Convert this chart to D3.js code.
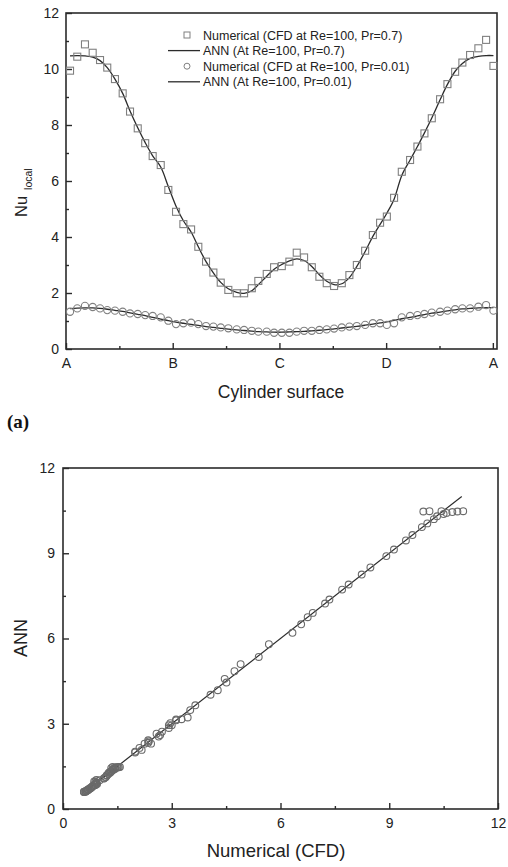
<!DOCTYPE html>
<html>
<head>
<meta charset="utf-8">
<script src="https://cdn.jsdelivr.net/npm/d3@7"></script>
<style>
body { margin: 0; background: #fff; }
svg { display: block; font-family: "Liberation Sans", Arial, sans-serif; }
</style>
</head>
<body>
<div id="chart"></div>
<script>
// Angular position on the cylinder surface (deg, A=0, B=90, C=180, D=270, A=360)
var angle = [3.4, 9.5, 16.0, 22.5, 28.7, 34.8, 41.3, 47.8, 54.0, 60.5, 66.8, 73.1, 79.9, 86.3, 92.8, 99.0,
    105.5, 111.6, 118.1, 124.3, 130.5, 136.9, 144.0, 150.2, 156.7, 162.2, 169.3, 175.5, 182.0, 188.4, 194.6,
    200.8, 207.3, 213.7, 219.9, 226.1, 232.6, 239.0, 245.3, 252.3, 258.8, 264.9, 270.6, 276.7, 283.2, 290.2,
    296.4, 302.3, 308.5, 315.5, 321.7, 328.2, 334.3, 340.8, 347.8, 354.3, 360.5];

// Pr = 0.7
var cfd_07 = [9.94, 10.44, 10.88, 10.58, 10.32, 10.05, 9.64, 9.13, 8.48, 7.88, 7.35, 6.89, 6.57, 5.68, 4.90,
    4.46, 4.27, 3.65, 3.12, 2.73, 2.37, 2.11, 1.99, 1.99, 2.17, 2.43, 2.68, 2.92, 2.96, 3.12, 3.44, 3.27, 2.92,
    2.58, 2.35, 2.25, 2.35, 2.64, 3.00, 3.51, 4.07, 4.51, 4.73, 5.40, 6.33, 6.75, 7.23, 7.70, 8.24, 8.92, 9.46,
    9.90, 10.23, 10.50, 10.74, 11.04, 10.11];
var ann_07 = [10.47, 10.48, 10.47, 10.42, 10.30, 10.05, 9.64, 9.13, 8.50, 7.90, 7.37, 6.90, 6.50, 5.80, 5.10,
    4.58, 4.18, 3.65, 3.12, 2.72, 2.38, 2.15, 2.02, 1.99, 2.08, 2.30, 2.60, 2.85, 3.02, 3.15, 3.22, 3.16, 2.95,
    2.65, 2.42, 2.30, 2.33, 2.55, 2.95, 3.48, 4.02, 4.45, 4.85, 5.35, 6.20, 6.75, 7.23, 7.72, 8.25, 8.90, 9.45,
    9.92, 10.20, 10.38, 10.45, 10.48, 10.48];

// Pr = 0.01
var cfd_001 = [1.33, 1.45, 1.54, 1.50, 1.45, 1.39, 1.37, 1.33, 1.27, 1.25, 1.21, 1.18, 1.13, 1.01, 0.89, 0.92,
    0.94, 0.89, 0.82, 0.80, 0.77, 0.74, 0.70, 0.68, 0.65, 0.62, 0.62, 0.58, 0.58, 0.58, 0.62, 0.65, 0.65, 0.68,
    0.70, 0.73, 0.77, 0.80, 0.82, 0.86, 0.92, 0.92, 0.86, 0.92, 1.13, 1.18, 1.21, 1.25, 1.30, 1.33, 1.37, 1.42,
    1.45, 1.45, 1.51, 1.57, 1.37];
var ann_001 = [1.44, 1.46, 1.47, 1.47, 1.45, 1.42, 1.38, 1.34, 1.29, 1.24, 1.19, 1.13, 1.07, 1.01, 0.96, 0.92,
    0.88, 0.84, 0.80, 0.77, 0.74, 0.71, 0.68, 0.66, 0.64, 0.62, 0.61, 0.60, 0.60, 0.61, 0.62, 0.63, 0.65, 0.67,
    0.69, 0.72, 0.75, 0.78, 0.81, 0.85, 0.89, 0.93, 0.97, 1.02, 1.08, 1.13, 1.18, 1.23, 1.28, 1.32, 1.36, 1.40,
    1.43, 1.45, 1.47, 1.48, 1.48];

// Axis ticks
var surf_ticks = [0, 90, 180, 270, 360];
var surf_labels = ['A', 'B', 'C', 'D', 'A'];
var surf_minor = [45, 135, 225, 315];
var nu_ticks = [0, 2, 4, 6, 8, 10, 12];
var nu_minor = [1, 3, 5, 7, 9, 11];
var par_ticks = [0, 3, 6, 9, 12];
var par_minor = [1.5, 4.5, 7.5, 10.5];
var fit_line = [0.6, 11];

var legend_labels = ['Numerical (CFD at Re=100, Pr=0.7)', 'ANN (At Re=100, Pr=0.7)',
    'Numerical (CFD at Re=100, Pr=0.01)', 'ANN (At Re=100, Pr=0.01)'];

var width = 508;
var height = 867;
var ink = '#2b2b2b';
var marker = '#808080';

var svg = d3.select('#chart')
    .append('svg')
    .attr('width', width)
    .attr('height', height);

// ---------- (a) local Nusselt number ----------
var x_top = d3.scaleLinear().domain([0, 363.5]).range([66, 497]);
var y_top = d3.scaleLinear().domain([0, 12]).range([349, 13]);

function drawAxes(g, xs, ys, xt, xm, yt, ym, xfmt, ypad) {
    var bottom = ys.range()[0];
    var left = xs.range()[0];

    g.append('g')
        .attr('transform', 'translate(0,' + bottom + ')')
        .call(d3.axisBottom(xs).tickValues(xt).tickSize(-6).tickPadding(9).tickFormat(xfmt));
    g.append('g')
        .attr('transform', 'translate(0,' + bottom + ')')
        .call(d3.axisBottom(xs).tickValues(xm).tickSize(-3).tickFormat(''));
    g.append('g')
        .attr('transform', 'translate(' + left + ',0)')
        .call(d3.axisLeft(ys).tickValues(yt).tickSize(-6).tickPadding(ypad));
    g.append('g')
        .attr('transform', 'translate(' + left + ',0)')
        .call(d3.axisLeft(ys).tickValues(ym).tickSize(-3).tickFormat(''));

    g.selectAll('.domain').remove();
    g.selectAll('.tick line').attr('stroke', ink).attr('stroke-width', 1.4);
    g.selectAll('.tick text').attr('fill', '#222').style('font-size', '14px');

    // frame
    g.append('rect')
        .attr('x', xs.range()[0])
        .attr('y', ys.range()[1])
        .attr('width', xs.range()[1] - xs.range()[0])
        .attr('height', ys.range()[0] - ys.range()[1])
        .attr('fill', 'none')
        .attr('stroke', ink)
        .attr('stroke-width', 1.6);
}

var top_g = svg.append('g');
drawAxes(top_g, x_top, y_top, surf_ticks, surf_minor, nu_ticks, nu_minor,
    function(d, i) { return surf_labels[i]; }, 7);

var line_top = d3.line()
    .curve(d3.curveCatmullRom)
    .x(function(d, i) { return x_top(angle[i]); })
    .y(function(d) { return y_top(d); });

top_g.append('path')
    .datum(ann_07)
    .attr('d', line_top)
    .attr('fill', 'none')
    .attr('stroke', ink)
    .attr('stroke-width', 1.3);

top_g.append('path')
    .datum(ann_001)
    .attr('d', line_top)
    .attr('fill', 'none')
    .attr('stroke', ink)
    .attr('stroke-width', 1.3);

top_g.selectAll('.sq')
    .data(cfd_07)
    .enter()
    .append('rect')
    .attr('x', function(d, i) { return x_top(angle[i]) - 3.5; })
    .attr('y', function(d) { return y_top(d) - 3.5; })
    .attr('width', 7)
    .attr('height', 7)
    .attr('fill', 'none')
    .attr('stroke', marker)
    .attr('stroke-width', 1.1);

top_g.selectAll('.ci')
    .data(cfd_001)
    .enter()
    .append('circle')
    .attr('cx', function(d, i) { return x_top(angle[i]); })
    .attr('cy', function(d) { return y_top(d); })
    .attr('r', 3.6)
    .attr('fill', 'none')
    .attr('stroke', marker)
    .attr('stroke-width', 1.1);

// legend
var legend = top_g.append('g');
legend_labels.forEach(function(t, i) {
    var ly = 35 + i * 15.6;
    if (i % 2 === 1) {
        legend.append('line')
            .attr('x1', 168).attr('x2', 200)
            .attr('y1', ly).attr('y2', ly)
            .attr('stroke', ink)
            .attr('stroke-width', 1.3);
    } else if (i === 0) {
        legend.append('rect')
            .attr('x', 184).attr('y', ly - 3)
            .attr('width', 6).attr('height', 6)
            .attr('fill', 'none')
            .attr('stroke', marker);
    } else {
        legend.append('circle')
            .attr('cx', 187).attr('cy', ly)
            .attr('r', 3)
            .attr('fill', 'none')
            .attr('stroke', marker);
    }
    legend.append('text')
        .attr('x', 203)
        .attr('y', ly)
        .attr('dy', '0.36em')
        .attr('fill', '#222')
        .style('font-size', '12.5px')
        .text(t);
});

// axis titles
top_g.append('text')
    .attr('x', 281)
    .attr('y', 398)
    .attr('text-anchor', 'middle')
    .attr('fill', '#222')
    .style('font-size', '17.5px')
    .text('Cylinder surface');

var nu = top_g.append('text')
    .attr('transform', 'translate(27,217) rotate(-90)')
    .attr('fill', '#222');
nu.append('tspan').style('font-size', '16.5px').text('Nu');
nu.append('tspan').attr('dx', 6).attr('dy', 5).style('font-size', '10.5px').text('local');

svg.append('text')
    .attr('x', 7)
    .attr('y', 428)
    .attr('fill', '#111')
    .style('font-family', '"Liberation Serif", "Times New Roman", serif')
    .style('font-weight', 'bold')
    .style('font-size', '19px')
    .text('(a)');

// ---------- ANN vs numerical ----------
var x_bot = d3.scaleLinear().domain([0, 12]).range([63, 498]);
var y_bot = d3.scaleLinear().domain([0, 12]).range([809, 468]);

var bot_g = svg.append('g');
drawAxes(bot_g, x_bot, y_bot, par_ticks, par_minor, par_ticks, par_minor, d3.format('d'), 8);

var pairs = cfd_07.map(function(d, i) { return [d, ann_07[i]]; })
    .concat(cfd_001.map(function(d, i) { return [d, ann_001[i]]; }));

bot_g.append('line')
    .attr('x1', x_bot(fit_line[0]))
    .attr('y1', y_bot(fit_line[0]))
    .attr('x2', x_bot(fit_line[1]))
    .attr('y2', y_bot(fit_line[1]))
    .attr('stroke', ink)
    .attr('stroke-width', 1.2);

bot_g.selectAll('.pt')
    .data(pairs)
    .enter()
    .append('circle')
    .attr('cx', function(d) { return x_bot(d[0]); })
    .attr('cy', function(d) { return y_bot(d[1]); })
    .attr('r', 3.4)
    .attr('fill', 'none')
    .attr('stroke', '#6a6a6a')
    .attr('stroke-width', 1.1);

bot_g.append('text')
    .attr('x', 276)
    .attr('y', 857)
    .attr('text-anchor', 'middle')
    .attr('fill', '#222')
    .style('font-size', '18.5px')
    .text('Numerical (CFD)');

bot_g.append('text')
    .attr('transform', 'translate(27,638) rotate(-90)')
    .attr('text-anchor', 'middle')
    .attr('fill', '#222')
    .style('font-size', '18px')
    .text('ANN');
</script>
</body>
</html>
